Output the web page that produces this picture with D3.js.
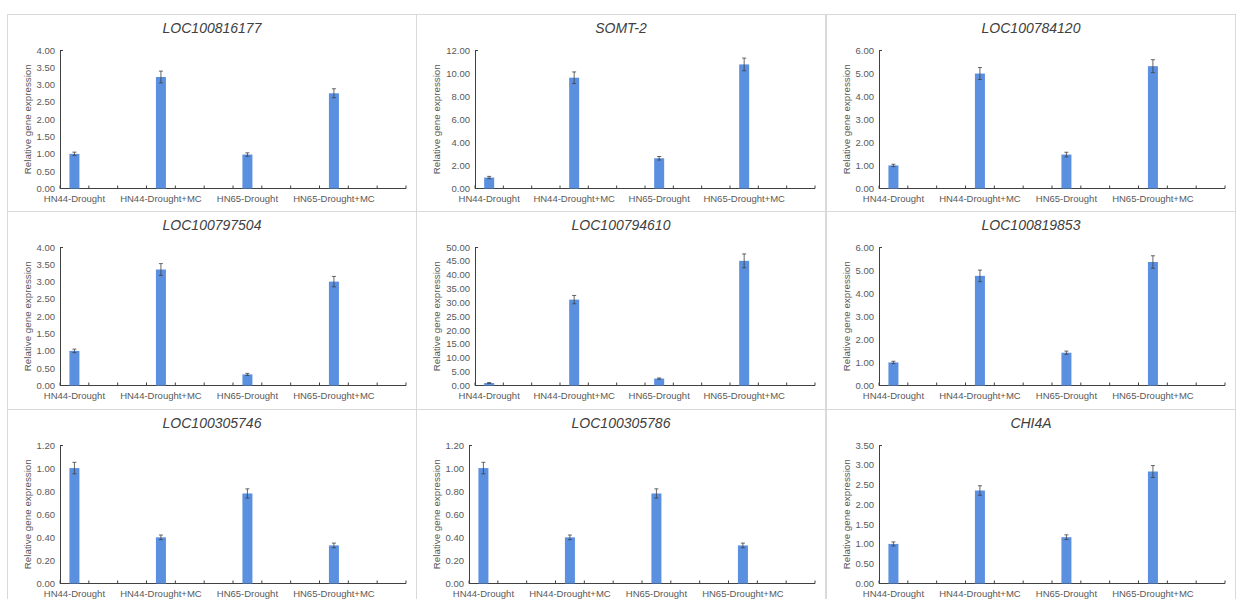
<!DOCTYPE html>
<html>
<head>
<meta charset="utf-8">
<script src="https://cdn.jsdelivr.net/npm/d3@7"></script>
<style>
  body { margin: 0; background: #fff; }
  svg text { font-family: "Liberation Sans", Arial, sans-serif; }
</style>
</head>
<body>
<div id="chart"></div>
<script>
// genes shown, one small panel each (row by row)
const genes = ["LOC100816177", "SOMT-2", "LOC100784120",
               "LOC100797504", "LOC100794610", "LOC100819853",
               "LOC100305746", "LOC100305786", "CHI4A"];
const groups = ["HN44-Drought", "HN44-Drought+MC", "HN65-Drought", "HN65-Drought+MC"];

// relative expression (mean) per gene, in groups order
const means = [
  [1.00, 3.22, 0.98, 2.75],
  [0.95, 9.60, 2.62, 10.75],
  [1.00, 4.98, 1.47, 5.30],
  [1.00, 3.35, 0.32, 3.00],
  [0.90, 31.0, 2.50, 45.0],
  [1.00, 4.75, 1.42, 5.35],
  [1.00, 0.40, 0.78, 0.33],
  [1.00, 0.40, 0.78, 0.33],
  [1.00, 2.35, 1.17, 2.83]
];
// standard errors
const errs = [
  [0.05, 0.17, 0.05, 0.13],
  [0.10, 0.50, 0.15, 0.55],
  [0.05, 0.26, 0.10, 0.28],
  [0.05, 0.17, 0.03, 0.15],
  [0.15, 1.50, 0.20, 2.50],
  [0.05, 0.25, 0.07, 0.27],
  [0.05, 0.02, 0.04, 0.02],
  [0.05, 0.02, 0.04, 0.02],
  [0.05, 0.12, 0.06, 0.15]
];
// y axis max and step per panel
const yMax  = [4, 12, 6, 4, 50, 6, 1.2, 1.2, 3.5];
const yStep = [0.5, 2, 1, 0.5, 5, 1, 0.2, 0.2, 0.5];

const W = 1239, H = 599;
const svg = d3.select("#chart").append("svg")
  .attr("width", W).attr("height", H);

const boxX = [7, 416, 826], boxW = 410;
const boxY = [14, 211, 409], boxH = 198;
const txt = "#595959";
const barColor = "#5b8fe0";

genes.forEach((gene, i) => {
  const col = i % 3, row = Math.floor(i / 3);
  const bx = boxX[col], by = boxY[row];
  const g = svg.append("g").attr("transform", `translate(${bx},${by})`);

  // panel frame
  g.append("rect").attr("x", 0.5).attr("y", 0.5)
    .attr("width", boxW - 1).attr("height", boxH + (row == 2 ? 20 : 0))
    .attr("fill", "#fff").attr("stroke", "#d9d9d9");

  const left = yMax[i] >= 10 ? 59 : 53;
  const right = boxW - 11;
  const top = 36, bottom = 174.5;

  const x = d3.scaleBand().domain(d3.range(12)).range([left, right]).padding(0);
  const y = d3.scaleLinear().domain([0, yMax[i]]).range([bottom, top]);

  // title, centred on the panel
  g.append("text")
    .attr("x", boxW / 2).attr("y", 19)
    .attr("text-anchor", "middle")
    .attr("font-size", 14).attr("font-style", "italic")
    .attr("fill", "#404040").text(gene);

  // y axis
  const ticks = d3.range(0, yMax[i] + yStep[i] / 2, yStep[i]);
  const yAxis = d3.axisLeft(y).tickValues(ticks).tickSize(0).tickPadding(5)
    .tickFormat(d3.format(".2f"));
  const ya = g.append("g").attr("transform", `translate(${left},0)`).call(yAxis);
  ya.select(".domain").attr("stroke", "#404040");
  ya.selectAll("text").attr("font-size", 9.5).attr("fill", txt);
  g.append("line").attr("x1", left).attr("x2", left + 3)
    .attr("y1", top + 0.5).attr("y2", top + 0.5).attr("stroke", "#404040");

  g.append("text")
    .attr("transform", `translate(24,${(top + bottom) / 2}) rotate(-90)`)
    .attr("text-anchor", "middle").attr("font-size", 9.8).attr("fill", txt)
    .text("Relative gene expression");

  // x axis line and slot ticks
  g.append("line").attr("x1", left).attr("x2", right)
    .attr("y1", bottom).attr("y2", bottom).attr("stroke", "#404040");
  d3.range(13).forEach(k => {
    const tx = k < 12 ? x(k) : right;
    g.append("line").attr("x1", tx).attr("x2", tx)
      .attr("y1", bottom).attr("y2", bottom - 3).attr("stroke", "#404040");
  });

  // bars on every third slot
  const data = groups.map((name, k) => ({ name, slot: k * 3, v: means[i][k], e: errs[i][k] }));
  const bw = 10;
  const cx = d => x(d.slot) + x.bandwidth() / 2;

  g.selectAll("rect.bar").data(data).enter().append("rect")
    .attr("class", "bar")
    .attr("x", d => cx(d) - bw / 2).attr("width", bw)
    .attr("y", d => y(d.v)).attr("height", d => bottom - y(d.v))
    .attr("fill", barColor);

  // error bars
  const eb = g.selectAll("g.err").data(data).enter().append("g").attr("class", "err")
    .attr("stroke", "#404040").attr("stroke-width", 0.8);
  eb.append("line").attr("x1", cx).attr("x2", cx)
    .attr("y1", d => y(d.v + d.e)).attr("y2", d => y(d.v - d.e));
  eb.append("line").attr("x1", d => cx(d) - 2).attr("x2", d => cx(d) + 2)
    .attr("y1", d => y(d.v + d.e)).attr("y2", d => y(d.v + d.e));
  eb.append("line").attr("x1", d => cx(d) - 2).attr("x2", d => cx(d) + 2)
    .attr("y1", d => y(d.v - d.e)).attr("y2", d => y(d.v - d.e));

  // group labels
  g.selectAll("text.grp").data(data).enter().append("text")
    .attr("class", "grp")
    .attr("x", cx).attr("y", bottom + 13)
    .attr("text-anchor", "middle").attr("font-size", 9.5).attr("fill", txt)
    .text(d => d.name);
});
</script>
</body>
</html>
